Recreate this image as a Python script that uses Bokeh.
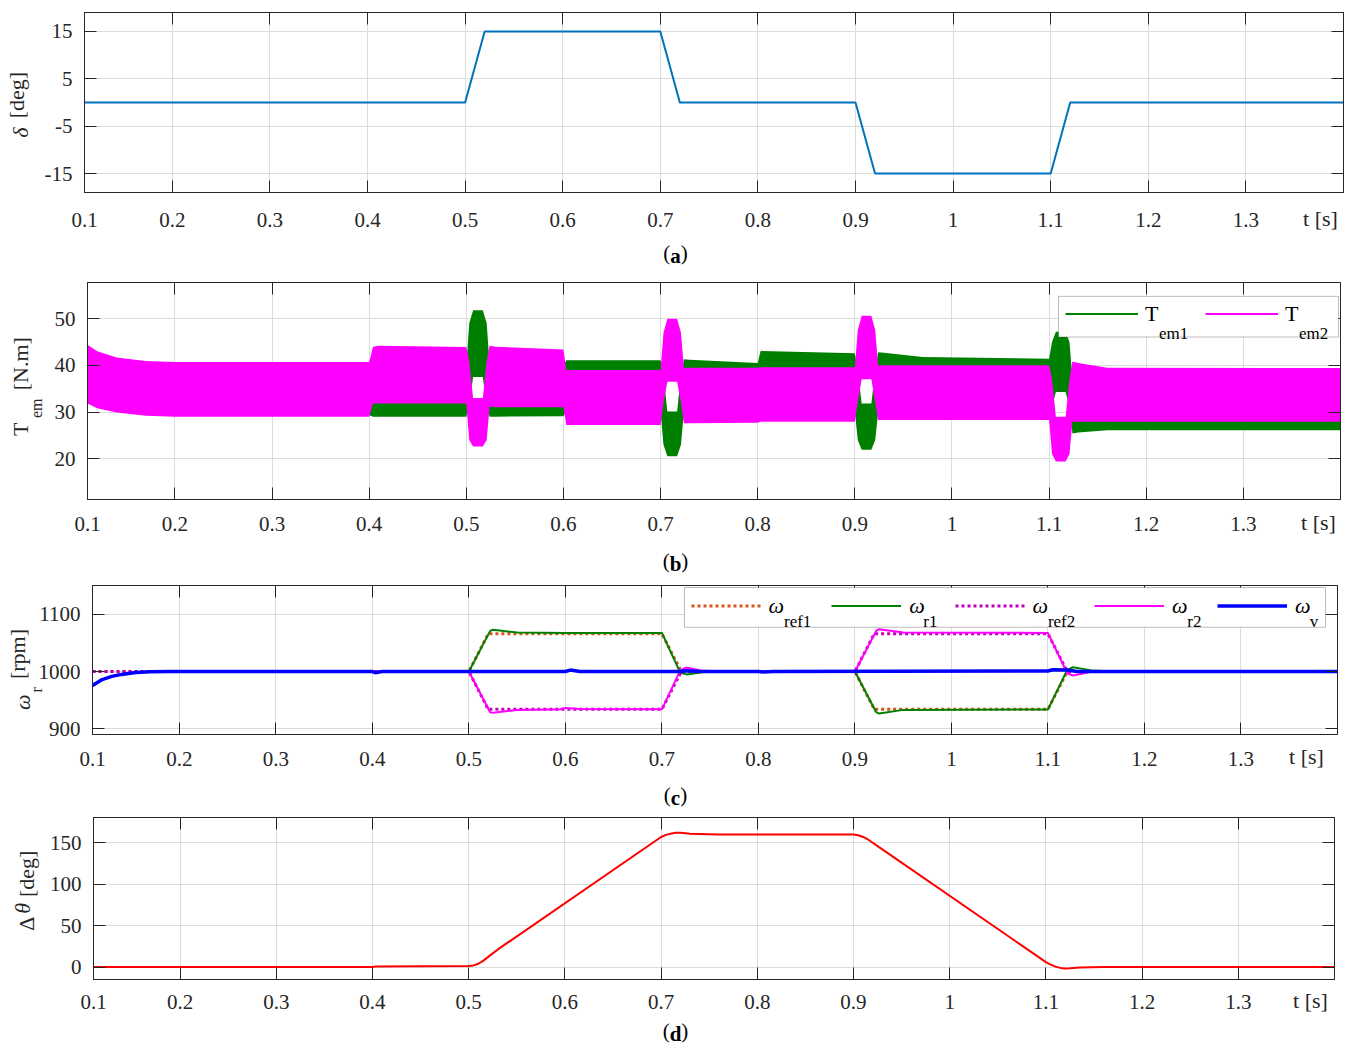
from bokeh.plotting import figure
from bokeh.models import (Range1d, FixedTicker, LinearAxis, Grid, Label, Legend,
                          LegendItem, BoxAnnotation)
from bokeh.layouts import column, row
from bokeh.embed import file_html
from bokeh.resources import INLINE

FONT = "Liberation Serif"
AX = "#262626"
GRID = "#dcdcdc"
FIGW = 1350

# ---------------- data ----------------
X0, X1 = 0.11, 1.40
x_ticks = [0.11, 0.2, 0.3, 0.4, 0.5, 0.6, 0.7, 0.8, 0.9, 1.0, 1.1, 1.2, 1.3]
x_tick_labels = ["0.1", "0.2", "0.3", "0.4", "0.5", "0.6", "0.7", "0.8", "0.9", "1", "1.1", "1.2", "1.3"]

# (a) load angle delta [deg]
t_delta = [0.11, 0.5, 0.52, 0.7, 0.72, 0.9, 0.92, 1.1, 1.12, 1.4]
delta = [0, 0, 15, 15, 0, 0, -15, -15, 0, 0]
a_yticks = [-15, -5, 5, 15]

# (b) electromagnetic torque ripple envelopes [N.m]
t_tem = [0.11, 0.12, 0.14, 0.17, 0.2, 0.4, 0.404, 0.41, 0.5, 0.503, 0.507, 0.517, 0.521,
         0.524, 0.53, 0.6, 0.603, 0.7, 0.703, 0.707, 0.717, 0.721, 0.724, 0.73, 0.8,
         0.803, 0.9, 0.903, 0.907, 0.917, 0.921, 0.924, 0.93, 0.97, 1.1, 1.103, 1.107,
         1.117, 1.121, 1.124, 1.13, 1.16, 1.4]
tem2_hi = [44.4, 43.0, 41.7, 40.9, 40.7, 40.7, 44.0, 44.2, 43.9, 41, 33, 33, 41,
           44.2, 44.0, 43.4, 39.0, 39.0, 47, 50, 50, 47, 39.5, 39.5, 39.5,
           39.6, 39.6, 47.5, 50.6, 50.6, 47.5, 40.0, 40.0, 40.0, 40.0, 37, 29.0,
           29.0, 37, 40.8, 40.5, 39.5, 39.4]
tem2_lo = [31.8, 30.8, 29.9, 29.2, 29.0, 29.0, 31.8, 31.8, 31.8, 24, 22.6, 22.6, 24,
           31.2, 31.0, 31.0, 27.2, 27.2, 32, 36.5, 36.5, 32, 27.6, 27.6, 27.7,
           27.9, 27.9, 32, 37, 37, 32, 28.3, 28.3, 28.3, 28.3, 21, 19.4,
           19.4, 21, 27.9, 27.9, 27.9, 27.9]
tem1_hi = [44.0, 42.7, 41.4, 40.6, 40.4, 40.4, 40.0, 40.0, 40.0, 49, 51.8, 51.8, 49,
           40, 40, 40, 41.1, 41.1, 38, 30.1, 30.1, 38, 41.3, 41.2, 40.5,
           43.1, 42.6, 39, 31.8, 31.8, 39, 42.8, 42.7, 41.8, 41.4, 45, 47.2,
           47.2, 45, 37, 37, 37, 37]
tem1_lo = [32.1, 31.1, 30.2, 29.5, 29.3, 29.3, 29.0, 29.0, 29.0, 31, 37.5, 37.5, 31,
           29.0, 29.0, 29.1, 30, 30, 23, 20.5, 20.5, 23, 30, 30, 30,
           30, 30, 24, 21.9, 21.9, 24, 30, 30, 30, 30, 31, 34.3,
           34.3, 31, 25.4, 25.6, 26.1, 26.1]
b_yticks = [20, 30, 40, 50]

# (c) speeds [rpm]
t_ref = [0.11, 0.5, 0.52, 0.7, 0.72, 0.9, 0.92, 1.1, 1.12, 1.4]
w_ref1 = [1000, 1000, 1066, 1066, 1000, 1000, 934, 934, 1000, 1000]
w_ref2 = [1000, 1000, 934, 934, 1000, 1000, 1066, 1066, 1000, 1000]
t_wr = [0.11, 0.12, 0.13, 0.14, 0.155, 0.17, 0.19, 0.5, 0.522, 0.525, 0.55, 0.6,
        0.7, 0.719, 0.726, 0.745, 0.77, 0.9, 0.922, 0.925, 0.95, 1.1, 1.12, 1.126,
        1.145, 1.17, 1.4]
w_r1 = [975.5, 986, 991.5, 995, 998.5, 999.6, 1000, 1000, 1071, 1073, 1068, 1067.5,
        1067.5, 998, 995, 999.5, 1000, 1000, 929, 926.6, 933, 933.6, 1003, 1007.5,
        1002, 1000, 1000]
t_wr2 = [0.11, 0.12, 0.13, 0.14, 0.155, 0.17, 0.19, 0.5, 0.522, 0.525, 0.55, 0.595,
         0.6, 0.615, 0.7, 0.719, 0.725, 0.74, 0.76, 0.9, 0.922, 0.925, 0.95, 1.1,
         1.12, 1.126, 1.145, 1.17, 1.4]
w_r2 = [975.5, 986, 991.5, 995, 998.5, 999.6, 1000, 1000, 929, 927.8, 933, 934,
        936.5, 934.5, 934, 1002, 1007, 1002, 1000, 1000, 1071, 1074, 1068, 1067.5,
        997, 993, 999.5, 1000, 1000]
t_wv = [0.11, 0.12, 0.13, 0.14, 0.155, 0.17, 0.19, 0.4, 0.403, 0.41, 0.6, 0.605,
        0.615, 0.72, 0.725, 0.74, 0.8, 0.805, 0.815, 1.1, 1.105, 1.12, 1.13, 1.4]
w_v = [975.5, 986, 991.5, 995, 998.5, 999.6, 1000, 1000, 998, 1000, 1000, 1002.5,
       1000, 1000, 1001.5, 1000, 1000, 999, 1000, 1001, 1003, 1002.5, 1000, 1000]
c_yticks = [900, 1000, 1100]

# (d) angle difference [deg]
t_dth = [0.11, 0.4, 0.403, 0.5, 0.505, 0.51, 0.515, 0.52, 0.525, 0.53, 0.7, 0.705,
         0.71, 0.715, 0.72, 0.73, 0.76, 0.9, 0.905, 0.91, 0.915, 0.92, 0.925, 0.93,
         1.1, 1.105, 1.11, 1.115, 1.12, 1.125, 1.135, 1.16, 1.4]
dtheta = [0, 0, 0.6, 1.2, 2, 4, 7.5, 12, 16.5, 21, 157, 159.5, 161, 162, 162, 161,
          160, 160, 159, 157, 154, 150, 146, 142, 6, 3, 0.5, -1, -1.8, -1.5, -0.6, 0, 0]
d_yticks = [0, 50, 100, 150]


# ---------------- helpers ----------------
class Panel:
    def __init__(self, top, h, L, R, T, B, y0, y1, yticks, xstand):
        self.L, self.R, self.T, self.B, self.y0, self.y1 = L, R, T, B, y0, y1
        p = figure(width=FIGW, height=h, x_range=Range1d(X0, X1), y_range=Range1d(y0, y1),
                   output_backend="svg", toolbar_location=None,
                   x_axis_type=None, y_axis_type=None,
                   min_border_left=L, min_border_right=FIGW - R,
                   min_border_top=T - top, min_border_bottom=top + h - B)
        p.outline_line_color = AX
        p.outline_line_width = 1
        xt = FixedTicker(ticks=x_ticks)
        yt = FixedTicker(ticks=yticks)
        p.add_layout(Grid(dimension=0, ticker=xt, grid_line_color=GRID, grid_line_width=1))
        p.add_layout(Grid(dimension=1, ticker=yt, grid_line_color=GRID, grid_line_width=1))
        common = dict(axis_line_color=AX, axis_line_width=1, major_tick_line_color=AX,
                      major_tick_in=12, major_tick_out=0, minor_tick_line_color=None)
        p.add_layout(LinearAxis(ticker=xt, major_label_overrides=dict(zip(x_ticks, x_tick_labels)),
                                major_label_standoff=xstand, major_label_text_font=FONT,
                                major_label_text_font_size="21px", major_label_text_color=AX,
                                **common), "below")
        p.add_layout(LinearAxis(ticker=yt, major_label_overrides={y: str(y) for y in yticks},
                                major_label_standoff=12, major_label_text_font=FONT,
                                major_label_text_font_size="21px", major_label_text_color=AX,
                                **common), "left")
        # box ticks on the top and right edges (minor ticks only -> no labels)
        box_common = dict(axis_line_color=AX, axis_line_width=1, major_tick_line_color=None,
                          minor_tick_line_color=AX, minor_tick_in=12, minor_tick_out=0,
                          major_label_standoff=0)
        p.add_layout(LinearAxis(ticker=FixedTicker(ticks=[], minor_ticks=x_ticks), **box_common), "above")
        p.add_layout(LinearAxis(ticker=FixedTicker(ticks=[], minor_ticks=yticks), **box_common), "right")
        self.p = p

    def fx(self, px):
        return X0 + (px - self.L) / (self.R - self.L) * (X1 - X0)

    def fy(self, py):
        return self.y1 - (py - self.T) / (self.B - self.T) * (self.y1 - self.y0)

    def text_axis(self, side, positions, texts, size, style, standoff, color=AX):
        if side == "left":
            ticks = [self.fy(v) for v in positions]
        else:
            ticks = [self.fx(v) for v in positions]
        ax = LinearAxis(ticker=FixedTicker(ticks=ticks),
                        major_label_overrides=dict(zip(ticks, texts)),
                        major_label_standoff=standoff, major_label_text_font=FONT,
                        major_label_text_font_size=size, major_label_text_font_style=style,
                        major_label_text_color=color, axis_line_color=None,
                        major_tick_line_color=None, minor_tick_line_color=None,
                        major_tick_in=0, major_tick_out=0)
        if side == "left":
            ax.major_label_orientation = "vertical"
        self.p.add_layout(ax, side)

    def label(self, px, py, text, size="22px", style="normal", align="left",
              baseline="alphabetic", color="#000000"):
        self.p.add_layout(Label(x=self.fx(px), y=self.fy(py), text=text, text_font=FONT,
                                text_font_size=size, text_font_style=style,
                                text_align=align, text_baseline=baseline, text_color=color))

    def bottom_texts(self, tx, s_t, letter, wbold, s_cap):
        cx = 675
        wp = 7.0
        # "t [s]" on the tick-label row (zero-size axis overlapping the row above)
        self.text_axis("below", [tx], ["t [s]"], "22px", "normal", s_t)
        # caption "(x)" with a bold letter
        self.text_axis("below", [cx - wbold / 2 - wp / 2, cx + wbold / 2 + wp / 2], ["(", ")"],
                       "21px", "normal", s_cap, color="#000000")
        self.text_axis("below", [cx], [letter], "21px", "bold", -24, color="#000000")

    def box(self, l, r, t, b):
        self.p.add_layout(BoxAnnotation(left=self.fx(l), right=self.fx(r), top=self.fy(t),
                                        bottom=self.fy(b), fill_color="white", fill_alpha=1,
                                        line_color=AX, line_width=1, level="annotation"))

    def item(self, r, text, gx, yc, gw, standoff, style="normal"):
        h = 25
        leg = Legend(items=[LegendItem(label=text, renderers=[r])],
                     location=(gx - self.L, self.B - (yc + h / 2)),
                     orientation="horizontal", padding=0, spacing=0, margin=0,
                     glyph_width=gw, glyph_height=h, label_height=h, label_width=10,
                     label_standoff=standoff, label_text_font=FONT,
                     label_text_font_size="22px", label_text_font_style=style,
                     label_text_color="#000000", background_fill_alpha=0,
                     border_line_alpha=0)
        self.p.add_layout(leg, "center")


# ---------------- (a) ----------------
A = Panel(0, 272, 84, 1343, 12, 192, -19, 19, a_yticks, 20)
A.p.line(t_delta, delta, line_color="#0072BD", line_width=2)
A.text_axis("left", [132], ["δ"], "22px", "italic", 9)
A.text_axis("left", [94.5], ["[deg]"], "22px", "normal", -24)
A.bottom_texts(1320, -24, "a", 10.5, 7)

# ---------------- (b) ----------------
B = Panel(272, 306, 87, 1340, 282, 501, 11.26, 57.74, b_yticks, 17)
B.p.varea(x=t_tem, y1=tem1_lo, y2=tem1_hi, fill_color="#008000")
B.p.varea(x=t_tem, y1=tem2_lo, y2=tem2_hi, fill_color="#FF00FF")
lg1 = B.p.line(x=t_tem[:1], y=tem1_hi[:1], line_color="#008000", line_width=2)
lg2 = B.p.line(x=t_tem[:1], y=tem2_hi[:1], line_color="#FF00FF", line_width=2)
B.text_axis("left", [409], ["em"], "16px", "normal", 6)
B.text_axis("left", [430, 364], ["T", "[N.m]"], "22px", "normal", -8)
B.box(1058, 1338, 296, 337)
B.item(lg1, "T", 1065, 316, 73, 7)
B.item(lg2, "T", 1205, 316, 73, 7)
B.label(1158.5, 333, "em1", size="17px")
B.label(1298.5, 333, "em2", size="17px")
B.bottom_texts(1318, -24, "b", 11.7, 11)

# ---------------- (c) ----------------
C = Panel(578, 234, 92, 1337, 585, 735, 890, 1150.3, c_yticks, 17)
r_ref1 = C.p.line(t_ref, w_ref1, line_color="#D95319", line_width=3, line_dash="3 3")
r_r1 = C.p.line(t_wr, w_r1, line_color="#008000", line_width=2)
r_ref2 = C.p.line(t_ref, w_ref2, line_color="#BF00BF", line_width=3, line_dash="3 3")
r_r2 = C.p.line(t_wr2, w_r2, line_color="#FF00FF", line_width=2)
r_v = C.p.line(t_wv, w_v, line_color="#0000FF", line_width=3.5)
C.text_axis("left", [690], ["r"], "16px", "normal", -10)
C.text_axis("left", [702.5], ["ω"], "22px", "italic", -10)
C.text_axis("left", [654], ["[rpm]"], "22px", "normal", -23)
C.box(684, 1325, 587, 627)
for r, gx, sx, sub in [(r_ref1, 690.6, 783.5, "ref1"), (r_r1, 831.2, 922.8, "r1"),
                       (r_ref2, 954.5, 1047.4, "ref2"), (r_r2, 1093.9, 1186.8, "r2"),
                       (r_v, 1217, 1309.2, "v")]:
    C.item(r, "ω", gx, 607, 70, 8, style="italic")
    C.label(sx, 621, sub, size="17px")
C.bottom_texts(1306, -25, "c", 9.3, 11)

# ---------------- (d) ----------------
D = Panel(812, 236, 93, 1334, 817, 981, -15, 180.5, d_yticks, 15)
D.p.line(t_dth, dtheta, line_color="#FF0000", line_width=2)
D.text_axis("left", [924.5, 874], ["Δ", "[deg]"], "22px", "normal", 7)
D.text_axis("left", [909], ["θ"], "22px", "italic", -24)
D.bottom_texts(1310, -24, "d", 11.7, 3)

layout = column(row(A.p), row(B.p), row(C.p), row(D.p), spacing=0)
open("out.html", "w").write(file_html(layout, INLINE))
